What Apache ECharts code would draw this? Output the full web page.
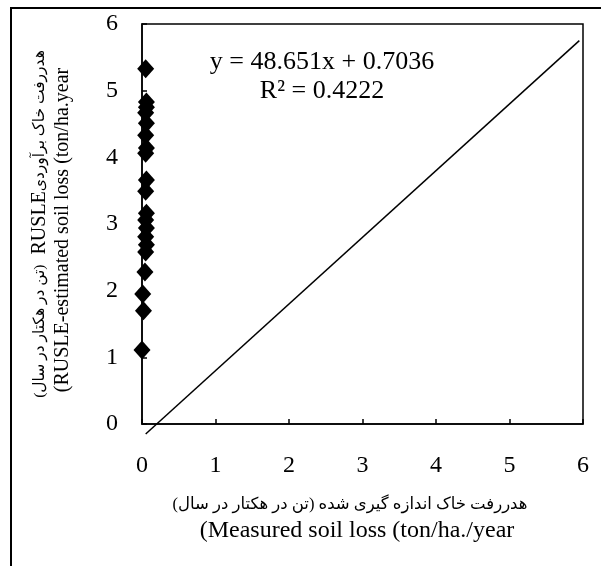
<!DOCTYPE html>
<html>
<head>
<meta charset="utf-8">
<script src="https://cdn.jsdelivr.net/npm/echarts@6/dist/echarts.min.js"></script>
<style>html,body{margin:0;padding:0;background:#fff}#c{width:601px;height:566px}</style>
</head>
<body>
<div id="c"></div>
<script>
// Data
var measured = [0.05, 0.06, 0.06, 0.05, 0.06, 0.05, 0.06, 0.05, 0.06, 0.05, 0.06, 0.05, 0.06, 0.05, 0.06, 0.05, 0.04, 0.01, 0.02, 0.0];
var estimated = [5.33, 4.83, 4.75, 4.67, 4.51, 4.33, 4.14, 4.06, 3.66, 3.49, 3.16, 3.06, 2.94, 2.81, 2.69, 2.58, 2.28, 1.95, 1.70, 1.11];
var refLineX = [0.05, 5.95];
var refLineY = [-0.15, 5.75];
var xTicks = [0, 1, 2, 3, 4, 5, 6];
var yTicks = [0, 1, 2, 3, 4, 5, 6];
var equationText = 'y = 48.651x + 0.7036';
var r2Text = 'R² = 0.4222';
var xTitleFa = 'هدررفت خاک اندازه گیری شده (تن در هکتار در سال)';
var xTitleEn = '(Measured soil loss (ton/ha./year';
var yTitleFaA = '(تن در هکتار در سال)';
var yTitleFaB = 'RUSLE';
var yTitleFaC = 'هدررفت خاک برآوردی';
var yTitleEn = '(RUSLE-estimated soil loss (ton/ha.year';

var FONT = '"Liberation Serif", "Times New Roman", "DejaVu Serif", "DejaVu Sans", serif';

var pts = measured.map(function (x, i) { return [x, estimated[i]]; });
var refPts = refLineX.map(function (x, i) { return [x, refLineY[i]]; });

var chart = echarts.init(document.getElementById('c'), null, {renderer: 'canvas'});
chart.setOption({
  animation: false,
  backgroundColor: '#fff',
  grid: {left: 142, top: 24, width: 441, height: 400, show: true, borderColor: '#000', borderWidth: 1.5, backgroundColor: 'transparent'},
  xAxis: {
    type: 'value', min: xTicks[0], max: xTicks[xTicks.length - 1], interval: 1,
    axisLine: {show: true, onZero: false, lineStyle: {color: '#000', width: 1.5}},
    axisTick: {show: true, inside: true, length: 5, lineStyle: {color: '#000', width: 1.5}},
    axisLabel: {color: '#000', fontFamily: FONT, fontSize: 24, margin: 30},
    splitLine: {show: false}
  },
  yAxis: {
    type: 'value', min: yTicks[0], max: yTicks[yTicks.length - 1], interval: 1,
    axisLine: {show: true, onZero: false, lineStyle: {color: '#000', width: 1.5}},
    axisTick: {show: true, inside: true, length: 5, lineStyle: {color: '#000', width: 1.5}},
    axisLabel: {color: '#000', fontFamily: FONT, fontSize: 24, margin: 24},
    splitLine: {show: false}
  },
  series: [
    {
      type: 'line', data: refPts, symbol: 'none', clip: false, z: 1,
      lineStyle: {color: '#000', width: 1.5}
    },
    {
      type: 'scatter', data: pts, symbol: 'diamond', symbolSize: [17, 19], clip: false, z: 3,
      itemStyle: {color: '#000', opacity: 1}
    }
  ],
  graphic: [
    {type: 'rect', shape: {x: 11, y: 8, width: 700, height: 700}, style: {fill: 'none', stroke: '#000', lineWidth: 2}, silent: true},
    {type: 'text', x: 322, y: 62, style: {text: equationText, font: '26px ' + FONT, fill: '#000', align: 'center', verticalAlign: 'middle'}},
    {type: 'text', x: 322, y: 91, style: {text: r2Text, font: '26px ' + FONT, fill: '#000', align: 'center', verticalAlign: 'middle'}},
    {type: 'text', x: 350, y: 505, style: {text: xTitleFa + '\u200F', font: '16.5px ' + FONT, fill: '#000', align: 'center', verticalAlign: 'middle'}},
    {type: 'text', x: 357, y: 531, style: {text: xTitleEn, font: '24px ' + FONT, fill: '#000', align: 'center', verticalAlign: 'middle'}},
    {type: 'text', x: 63, y: 230, rotation: Math.PI / 2, style: {text: yTitleEn, font: '20px ' + FONT, fill: '#000', align: 'center', verticalAlign: 'middle'}},
    {type: 'text', x: 40, y: 224, rotation: Math.PI / 2, style: {
      text: '{a|' + yTitleFaA + '}{b|' + yTitleFaB + '}{c|' + yTitleFaC + '}',
      align: 'center', verticalAlign: 'middle', fill: '#000',
      rich: {
        a: {fontFamily: FONT, fontSize: 15.5, padding: [0, 10, 0, 0]},
        b: {fontFamily: FONT, fontSize: 20},
        c: {fontFamily: FONT, fontSize: 15.5}
      }
    }}
  ]
});
</script>
</body>
</html>
